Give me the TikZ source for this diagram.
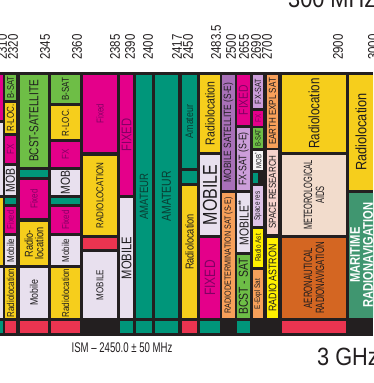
\documentclass[tikz,border=0pt]{standalone}
\usepackage{fontspec}
\setmainfont{Liberation Sans}
\usepackage{graphicx}
\definecolor{cmag}{RGB}{228,0,138}
\definecolor{clav}{RGB}{232,224,238}
\definecolor{cyel}{RGB}{246,206,28}
\definecolor{cgrn}{RGB}{110,190,70}
\definecolor{cteal}{RGB}{0,150,122}
\definecolor{cred}{RGB}{234,52,80}
\definecolor{cpur}{RGB}{168,112,184}
\definecolor{clil}{RGB}{204,158,218}
\definecolor{clil2}{RGB}{222,196,232}
\definecolor{corg}{RGB}{247,160,90}
\definecolor{cpink}{RGB}{246,210,204}
\definecolor{cpeach}{RGB}{242,220,204}
\definecolor{cbrn}{RGB}{212,102,34}
\definecolor{cmar}{RGB}{64,150,112}
\definecolor{clem}{RGB}{255,240,0}
\definecolor{cblk}{RGB}{35,31,32}
\definecolor{cink}{RGB}{30,28,30}
\definecolor{cfxt}{RGB}{130,0,100}
\definecolor{camt}{RGB}{10,60,50}
\definecolor{cwht}{RGB}{246,246,246}
\newcounter{lblc}
\tikzset{
  lbl/.style={rotate=90, inner sep=0pt, align=center, text=cink},
  freq/.style={rotate=90, anchor=west, inner sep=0pt, text=cblk, font=\fontsize{14}{14}\selectfont, xscale=0.82},
}
% x1 y1 x2 y2 fill size hscale text
\newcommand{\bandcell}[8]{%
  \fill[#5] (#1,#2) rectangle (#3,#4);
  \stepcounter{lblc}%
  \node[lbl, font=\fontsize{#6}{#6}\selectfont, xscale=#7] (c\arabic{lblc}) at ({(#1+#3)/2},{(#2+#4)/2}) {#8};%
}
\newcommand{\bandfill}[5]{\fill[#5] (#1,#2) rectangle (#3,#4);}
\newcommand{\fxt}[1]{\textcolor{cfxt}{#1}}
\newcommand{\amt}[1]{\textcolor{camt}{#1}}
\begin{document}
\begin{tikzpicture}[x=1pt,y=-1pt]
\useasboundingbox (0,0) rectangle (373,383);
\clip (0,0) rectangle (373,383);
\fill[white] (0,0) rectangle (373,383);
% frame
\fill[cblk] (0,72) rectangle (373,336);
% big headings
\node[anchor=base west, inner sep=0pt, font=\fontsize{25}{25}\selectfont, xscale=0.87, text=cblk] (top) at (288,7) {300 MHz};
\node[anchor=base west, inner sep=0pt, font=\fontsize{25}{25}\selectfont, xscale=0.87, text=cblk] (bot) at (317,365) {3 GHz};
\node[anchor=base, inner sep=0pt, font=\fontsize{14}{14}\selectfont, xscale=0.685, text=cblk] (ism) at (122,352) {ISM -- 2450.0 ± 50 MHz};
% frequency labels
\node[freq] (f1) at (2,60) {2310};
\node[freq] (f2) at (13,60) {2320};
\node[freq] (f3) at (45,60) {2345};
\node[freq] (f4) at (77,60) {2360};
\node[freq] (f5) at (115,60) {2385};
\node[freq] (f6) at (130,60) {2390};
\node[freq] (f7) at (148,60) {2400};
\node[freq] (f8) at (177,60) {2417};
\node[freq] (f9) at (188,60) {2450};
\node[freq] (f10) at (216,60) {2483.5};
\node[freq] (f11) at (231,60) {2500};
\node[freq] (f12) at (244,60) {2655};
\node[freq] (f13) at (256,60) {2690};
\node[freq] (f14) at (267,60) {2700};
\node[freq] (f15) at (338,60) {2900};
\node[freq] (f16) at (373,60) {3000};
% sliver
\bandfill{0}{75}{3}{120}{cmag}
\bandfill{0}{123}{3}{195}{clav}
\bandfill{0}{198}{3}{265}{cyel}
\bandfill{0}{268}{3}{318}{clav}
\bandfill{0}{321}{3}{333}{cteal}
% 2310-2320
\bandcell{5}{75}{16}{100}{cgrn}{9.5}{0.8}{B-SAT}
\bandcell{5}{103}{16}{133}{cyel}{10}{0.8}{R-LOC.}
\bandcell{5}{136}{16}{163}{cmag}{10}{0.8}{\fxt{FX}}
\bandcell{5}{166}{16}{195}{clav}{13}{0.8}{MOB}
\bandfill{5}{198}{16}{204}{cteal}
\bandcell{5}{207}{16}{233}{cmag}{9.5}{0.8}{\fxt{Fixed}}
\bandcell{5}{236}{16}{265}{clav}{10}{0.8}{Mobile}
\bandcell{5}{268}{16}{318}{cyel}{10}{0.8}{Radiolocation}
\bandfill{5}{321}{16}{333}{cred}
% 2320-2345
\bandcell{20}{75}{48}{167}{cgrn}{13}{0.77}{BCST-SATELLITE}
\bandfill{20}{170}{48}{177}{cteal}
\bandcell{20}{180}{48}{218}{cmag}{10}{0.8}{\fxt{Fixed}}
\fill[cyel] (20,222) rectangle (48,265);
\node[lbl, font=\fontsize{11.5}{10.5}\selectfont, xscale=0.8] (rl2) at (34,243.5) {Radio-\\location};
\bandcell{20}{268}{48}{318}{clav}{11}{0.8}{Mobile}
\bandfill{20}{321}{48}{333}{cred}
% 2345-2360
\bandcell{51}{75}{80}{103}{cgrn}{10}{0.8}{B-SAT}
\bandcell{51}{106}{80}{139}{cyel}{10}{0.8}{R-LOC.}
\bandcell{51}{142}{80}{167}{cmag}{10}{0.8}{\fxt{FX}}
\bandcell{51}{170}{80}{195}{clav}{13}{0.8}{MOB}
\bandfill{51}{198}{80}{204}{cteal}
\bandcell{51}{207}{80}{233}{cmag}{10}{0.8}{\fxt{Fixed}}
\bandcell{51}{236}{80}{265}{clav}{10}{0.8}{Mobile}
\bandcell{51}{268}{80}{318}{cyel}{10}{0.8}{Radiolocation}
\bandfill{51}{321}{80}{333}{cred}
% 2360-2385
\bandcell{83}{75}{117}{152}{cmag}{10}{0.8}{\fxt{Fixed}}
\bandcell{83}{156}{117}{235}{cyel}{10}{0.8}{RADIOLOCATION}
\bandfill{83}{238}{117}{249}{cred}
\bandcell{83}{252}{117}{318}{clav}{10}{0.8}{MOBILE}
% 2385-2390
\bandcell{120}{75}{133}{195}{cmag}{14}{0.8}{\fxt{FIXED}}
\bandcell{120}{198}{133}{318}{clav}{14}{0.8}{MOBILE}
\bandfill{120}{321}{133}{333}{cteal}
% 2390-2400
\bandcell{136}{75}{152}{318}{cteal}{12}{0.8}{\amt{AMATEUR}}
\bandfill{136}{321}{152}{333}{cteal}
% 2400-2417
\bandcell{155}{75}{178}{318}{cteal}{13}{0.8}{\amt{AMATEUR}}
\bandfill{155}{321}{178}{333}{cteal}
% 2417-2450
\bandcell{182}{75}{197}{168}{cteal}{11}{0.8}{\amt{Amateur}}
\bandfill{182}{171}{197}{183}{cteal}
\fill[cyel] (182,186) rectangle (197,318);
\node[lbl, font=\fontsize{11.5}{11.5}\selectfont, xscale=0.8] (rl9) at (189.5,242) {Radiolocation};
\bandfill{182}{321}{197}{333}{cred}
% 2450-2483.5
\bandcell{200}{75}{220}{152}{cyel}{13}{0.8}{Radiolocation}
\bandcell{200}{155}{220}{235}{clav}{20}{0.8}{MOBILE}
\bandcell{200}{238}{220}{318}{cmag}{15}{0.8}{\fxt{FIXED}}
\bandfill{200}{321}{220}{333}{cteal}
% 2483.5-2500
\bandcell{222}{75}{235}{190}{cpur}{10.5}{0.8}{MOBILE SATELLITE (S-E)}
\bandcell{222}{193}{235}{318}{corg}{9}{0.8}{RADIODETERMINATION SAT (S-E)}
% 2500-2655
\bandcell{237}{75}{250}{125}{cmag}{13}{0.8}{\fxt{FIXED}}
\bandcell{237}{128}{250}{190}{clil}{11}{0.8}{FX-SAT (S-E)}
\bandcell{237}{193}{250}{252}{clav}{13}{0.8}{MOBILE\textsuperscript{**}}
\bandcell{237}{255}{250}{318}{cgrn}{13}{0.8}{BCST - SAT}
\bandfill{237}{321}{250}{333}{cteal}
% 2655-2690
\bandcell{253}{75}{263}{108}{clil}{9}{0.8}{FX-SAT}
\bandcell{253}{111}{263}{126}{cmag}{8}{0.8}{\fxt{FX}}
\bandcell{253}{128}{263}{148}{cgrn}{7.5}{0.8}{B-SAT}
\bandcell{253}{151}{263}{170}{cwht}{7.5}{0.8}{MOB\textsuperscript{*}}
\bandfill{253}{173}{258}{183}{cteal}
\bandcell{253}{186}{263}{226}{clil2}{8}{0.8}{Space res}
\bandcell{253}{229}{263}{267}{clem}{8}{0.8}{Radio Ast}
\bandcell{253}{270}{263}{318}{corg}{8}{0.8}{E-Expl Sat}
% 2690-2700
\bandcell{267}{75}{278}{148}{corg}{10}{0.8}{EARTH EXPL SAT}
\bandcell{267}{150}{278}{234}{cpink}{10}{0.8}{SPACE RESEARCH}
\bandcell{267}{238}{278}{318}{clem}{11}{0.8}{RADIO ASTRON}
% 2700-2900
\bandcell{282}{75}{346}{152}{cyel}{15}{0.77}{Radiolocation}
\bandcell{282}{155}{346}{235}{cpeach}{12}{0.62}{METEOROLOGICAL\\AIDS}
\bandcell{282}{238}{346}{318}{cbrn}{12}{0.65}{AERONAUTICAL\\RADIONAVIGATION}
\bandfill{282}{321}{346}{333}{cred}
% 2900-3000
\fill[cyel] (349,75) rectangle (380,190);
\node[lbl, font=\fontsize{15}{15}\selectfont, xscale=0.85] (rl13) at (361,132) {Radiolocation};
\fill[cmar] (349,193) rectangle (380,318);
\node[lbl, font=\fontsize{14}{13}\selectfont\bfseries, xscale=0.8, text=white, anchor=north] (mar) at (350,255) {MARITIME\\RADIONAVIGATION};
\end{tikzpicture}
\end{document}
